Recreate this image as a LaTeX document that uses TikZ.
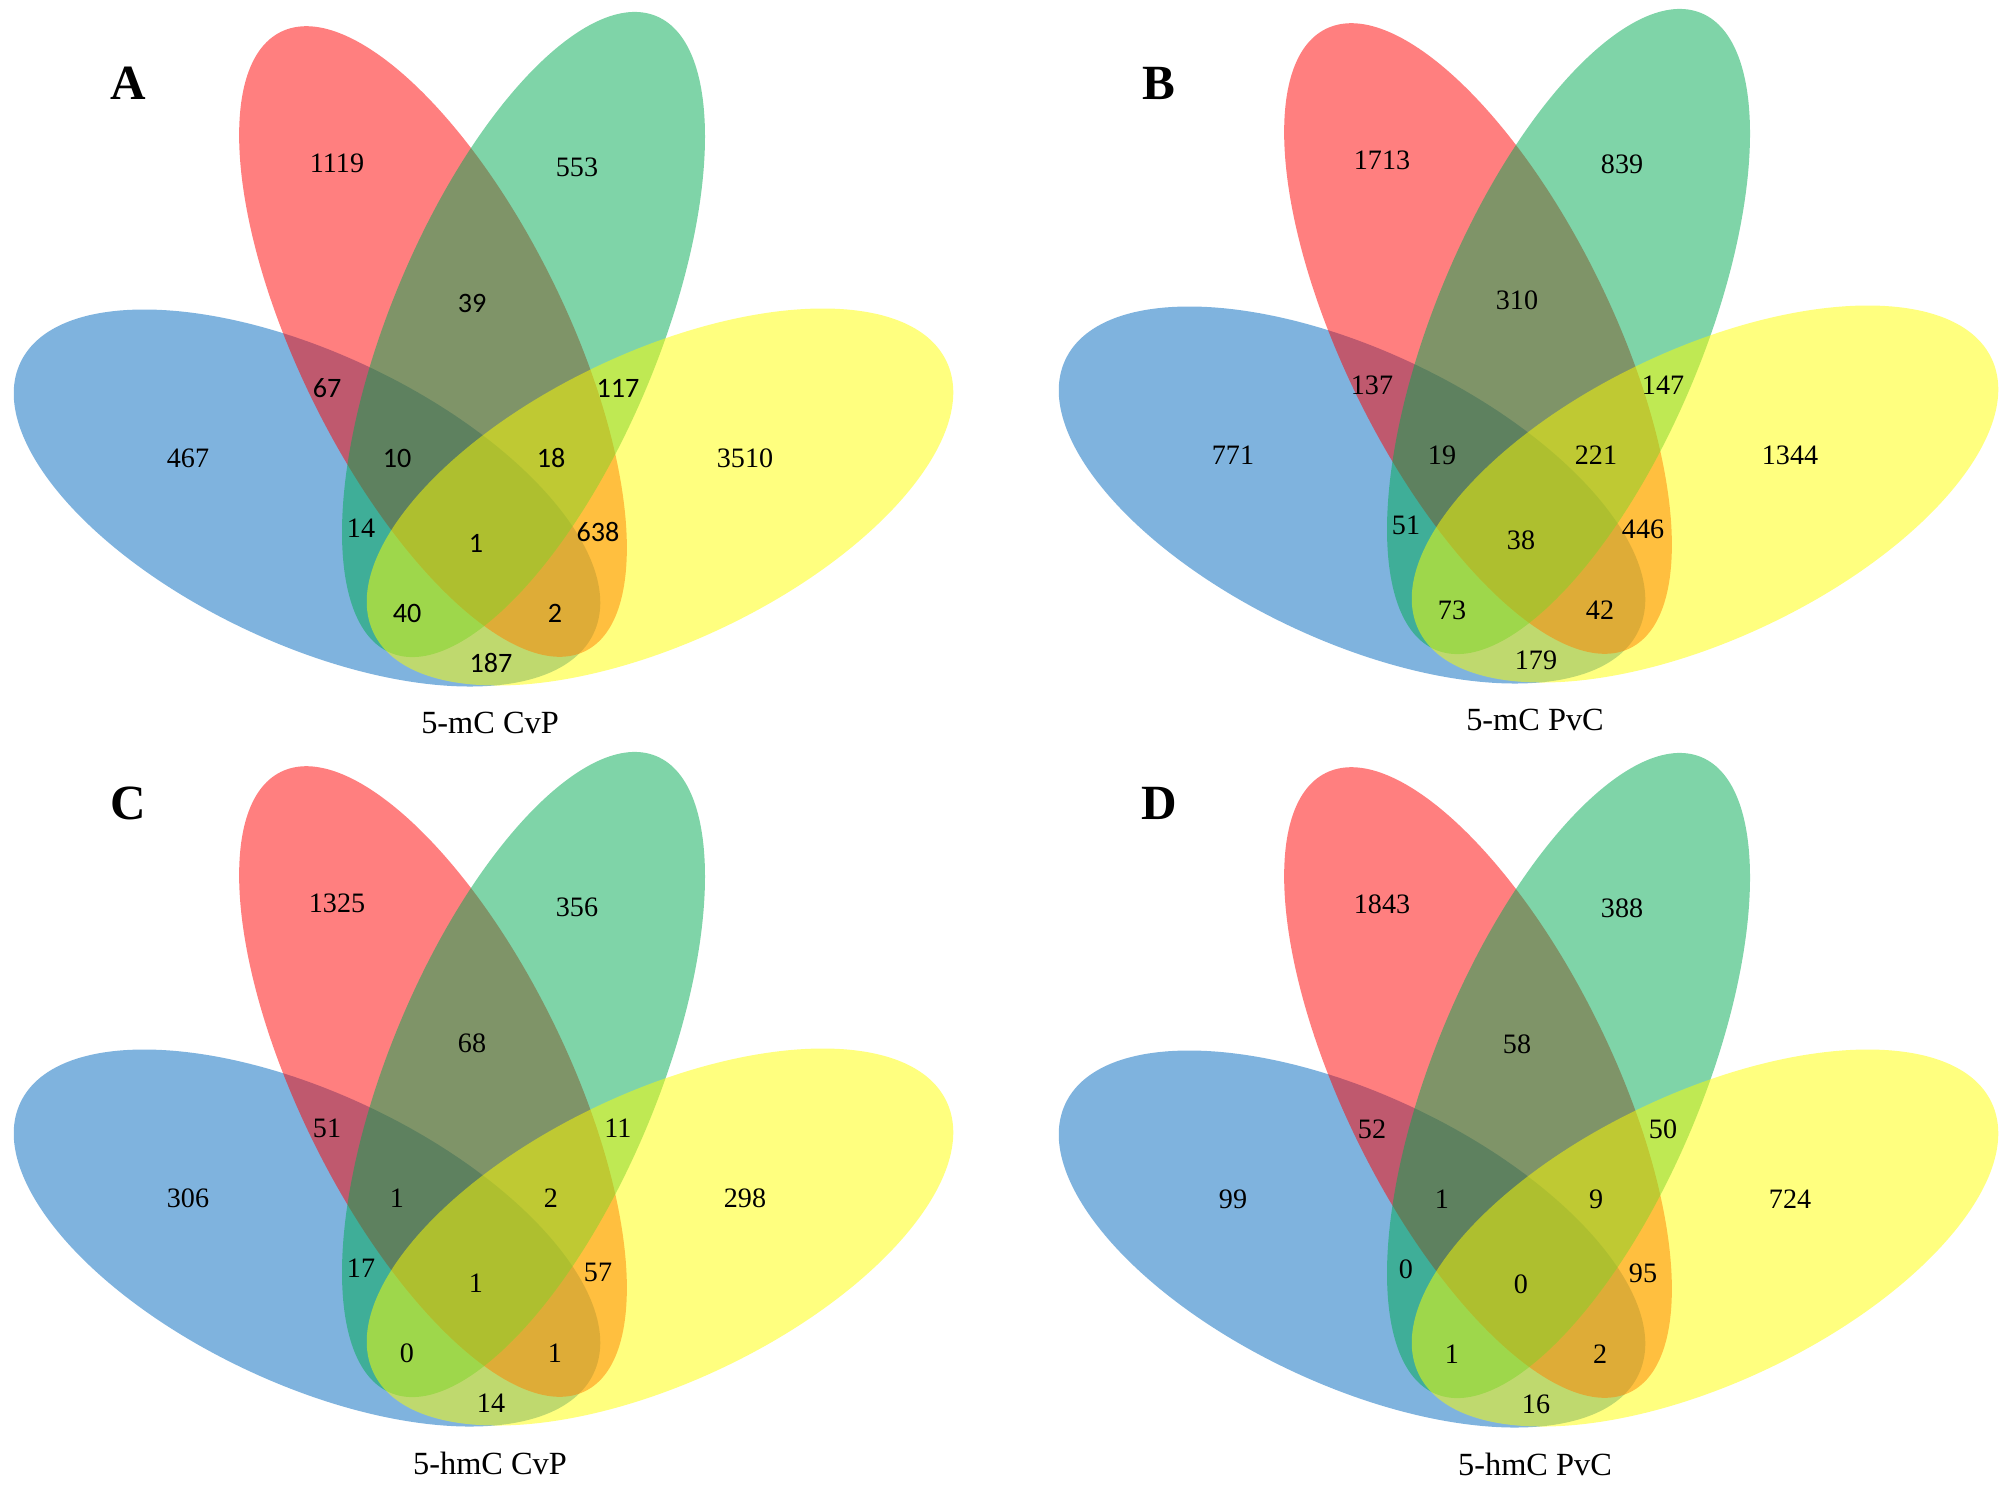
\documentclass[tikz,border=0pt]{standalone}
\usepackage{fontspec}
\setmainfont{Liberation Serif}
\newfontfamily\cntsans{Carlito}
\definecolor{setblue}{RGB}{0,104,190}
\definecolor{setred}{RGB}{255,0,0}
\definecolor{setgreen}{RGB}{0,170,82}
\definecolor{setyellow}{RGB}{255,255,0}
\tikzset{
  petal/.style={fill opacity=0.5},
  num/.style={inner sep=0pt,font=\fontsize{8}{8}\selectfont},
  numsans/.style={inner sep=0pt,font=\cntsans\fontsize{8}{8}\selectfont},
  caption/.style={inner sep=0pt,font=\fontsize{9.2}{10}\selectfont},
  panel/.style={inner sep=0pt,font=\bfseries\fontsize{14}{14}\selectfont}
}
\begin{document}
\begin{tikzpicture}[x=0.1mm,y=-0.1mm]
  \useasboundingbox (0,0) rectangle (2008,1496);
  % four ellipses, the same in every panel
  \foreach \dx/\dy in {0/0,1045/-3,0/740,1045/741}{
    \begin{scope}[shift={(\dx,\dy)}]
      \fill[petal,setblue] (307,498) circle[x radius=31.7mm,y radius=14.5mm,rotate=-25.3];
      \fill[petal,setred] (433,341.5) circle[x radius=34.5mm,y radius=13.4mm,rotate=116.15];
      \fill[petal,setgreen] (523.5,334.5) circle[x radius=34.5mm,y radius=13.4mm,rotate=67.35];
      \fill[petal,setyellow] (660,497) circle[x radius=31.7mm,y radius=14.5mm,rotate=25.3];
    \end{scope}
  }
  \path
    (128,83) node[panel] (A){A}
    (1159,83) node[panel] (B){B}
    (128,803) node[panel] (C){C}
    (1159,803) node[panel] (D){D};
  % 5-mC CvP
  \path
    (337,163) node[num] (A-r){1119}
    (577,167) node[num] (A-g){553}
    (472,303) node[numsans] (A-rg){39}
    (327,388) node[numsans] (A-br){67}
    (618,388) node[numsans] (A-gy){117}
    (188,458) node[num] (A-b){467}
    (397,458) node[numsans] (A-brg){10}
    (551,458) node[numsans] (A-rgy){18}
    (745,458) node[num] (A-y){3510}
    (361,528) node[num] (A-bg){14}
    (476,543) node[numsans] (A-brgy){1}
    (598,532) node[numsans] (A-ry){638}
    (407,613) node[numsans] (A-bgy){40}
    (555,613) node[numsans] (A-bry){2}
    (491,663) node[numsans] (A-by){187}
    (490,723) node[caption] (A-cap){5-mC CvP};
  % 5-mC PvC
  \begin{scope}[shift={(1045,-3)}]
  \path
    (337,163) node[num] (B-r){1713}
    (577,167) node[num] (B-g){839}
    (472,303) node[num] (B-rg){310}
    (327,388) node[num] (B-br){137}
    (618,388) node[num] (B-gy){147}
    (188,458) node[num] (B-b){771}
    (397,458) node[num] (B-brg){19}
    (551,458) node[num] (B-rgy){221}
    (745,458) node[num] (B-y){1344}
    (361,528) node[num] (B-bg){51}
    (476,543) node[num] (B-brgy){38}
    (598,532) node[num] (B-ry){446}
    (407,613) node[num] (B-bgy){73}
    (555,613) node[num] (B-bry){42}
    (491,663) node[num] (B-by){179}
    (490,723) node[caption] (B-cap){5-mC PvC};
  \end{scope}
  % 5-hmC CvP
  \begin{scope}[shift={(0,740)}]
  \path
    (337,163) node[num] (C-r){1325}
    (577,167) node[num] (C-g){356}
    (472,303) node[num] (C-rg){68}
    (327,388) node[num] (C-br){51}
    (618,388) node[num] (C-gy){11}
    (188,458) node[num] (C-b){306}
    (397,458) node[num] (C-brg){1}
    (551,458) node[num] (C-rgy){2}
    (745,458) node[num] (C-y){298}
    (361,528) node[num] (C-bg){17}
    (476,543) node[num] (C-brgy){1}
    (598,532) node[num] (C-ry){57}
    (407,613) node[num] (C-bgy){0}
    (555,613) node[num] (C-bry){1}
    (491,663) node[num] (C-by){14}
    (490,723) node[caption] (C-cap){5-hmC CvP};
  \end{scope}
  % 5-hmC PvC
  \begin{scope}[shift={(1045,741)}]
  \path
    (337,163) node[num] (D-r){1843}
    (577,167) node[num] (D-g){388}
    (472,303) node[num] (D-rg){58}
    (327,388) node[num] (D-br){52}
    (618,388) node[num] (D-gy){50}
    (188,458) node[num] (D-b){99}
    (397,458) node[num] (D-brg){1}
    (551,458) node[num] (D-rgy){9}
    (745,458) node[num] (D-y){724}
    (361,528) node[num] (D-bg){0}
    (476,543) node[num] (D-brgy){0}
    (598,532) node[num] (D-ry){95}
    (407,613) node[num] (D-bgy){1}
    (555,613) node[num] (D-bry){2}
    (491,663) node[num] (D-by){16}
    (490,723) node[caption] (D-cap){5-hmC PvC};
  \end{scope}
\end{tikzpicture}
\end{document}
